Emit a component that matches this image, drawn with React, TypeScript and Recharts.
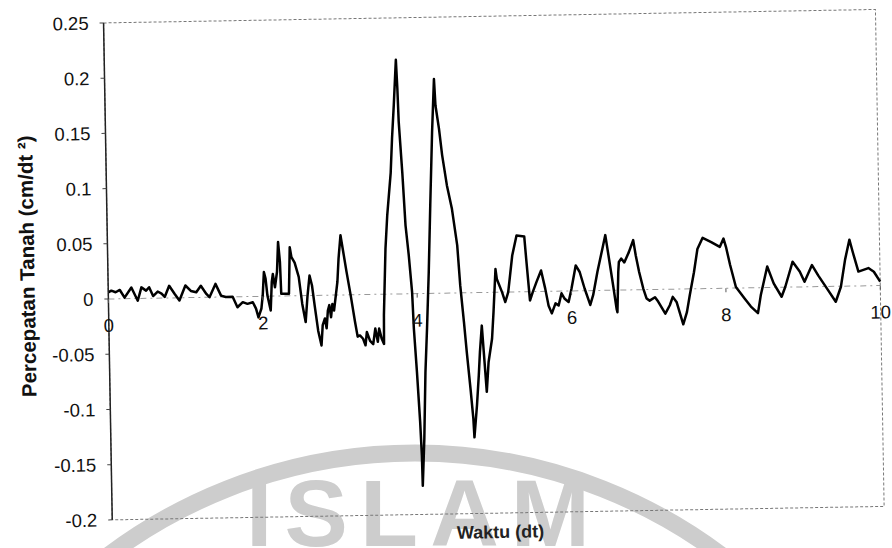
import React from 'react';
import { LineChart, Line, XAxis, YAxis, ReferenceLine, ReferenceArea } from 'recharts';

// time (dt) and ground acceleration (cm/dt²)
const waktu = [
  0, 0.04, 0.095, 0.15, 0.21, 0.3, 0.38, 0.43, 0.49, 0.53, 0.58, 0.64, 0.69, 0.73, 0.79, 0.86,
  0.92, 1.0, 1.07, 1.14, 1.2, 1.27, 1.31, 1.39, 1.46, 1.52, 1.61, 1.67, 1.74, 1.8, 1.87, 1.91,
  1.94, 1.98, 2.0, 2.02, 2.04, 2.06, 2.1, 2.12, 2.135, 2.16, 2.19, 2.21, 2.23, 2.24, 2.34, 2.36,
  2.38, 2.42, 2.47, 2.51, 2.55, 2.58, 2.61, 2.64, 2.67, 2.71, 2.75, 2.77, 2.8, 2.82, 2.84, 2.86,
  2.88, 2.9, 2.92, 2.97, 2.99, 3.02, 3.05, 3.09, 3.14, 3.19, 3.22, 3.25, 3.29, 3.32, 3.34, 3.38,
  3.42, 3.45, 3.48, 3.5, 3.53, 3.56, 3.565, 3.6, 3.63, 3.685, 3.71, 3.74, 3.777, 3.79, 3.8, 3.835,
  3.865, 3.9, 3.935, 3.95, 3.98, 4.01, 4.025, 4.03, 4.06, 4.09, 4.12, 4.155, 4.19, 4.23, 4.266,
  4.28, 4.32, 4.355, 4.41, 4.47, 4.53, 4.56, 4.6, 4.63, 4.67, 4.7, 4.71, 4.75, 4.78, 4.8, 4.83,
  4.85, 4.865, 4.88, 4.91, 4.96, 4.985, 5.02, 5.035, 5.1, 5.14, 5.18, 5.24, 5.3, 5.4, 5.42, 5.46,
  5.5, 5.55, 5.61, 5.66, 5.7, 5.74, 5.79, 5.83, 5.87, 5.91, 5.96, 6.0, 6.06, 6.11, 6.17, 6.24,
  6.28, 6.34, 6.41, 6.45, 6.48, 6.54, 6.58, 6.59, 6.61, 6.62, 6.65, 6.69, 6.75, 6.81, 6.84, 6.88,
  6.93, 6.97, 7.01, 7.08, 7.12, 7.21, 7.27, 7.31, 7.36, 7.4, 7.44, 7.49, 7.53, 7.59, 7.64, 7.71,
  7.82, 7.93, 7.98, 8.01, 8.06, 8.13, 8.24, 8.32, 8.41, 8.45, 8.54, 8.62, 8.72, 8.77, 8.87, 8.96,
  9.02, 9.12, 9.2, 9.31, 9.42, 9.49, 9.55, 9.61, 9.65, 9.72, 9.85, 9.92, 10.0,
];

const percepatan = [
  0.006, 0.0075, 0.006, 0.008, 0.001, 0.01, -0.002, 0.01, 0.007, 0.01, 0.002, 0.006, 0.004, 0.001, 0.011, 0.0035,
  -0.0025, 0.011, 0.006, 0.0047, 0.0105, 0.003, 0.0, 0.012, 0.0013, 0.0, 0.0, -0.0095, -0.005, -0.0066, -0.0052, -0.011,
  -0.019, -0.011, 0.001, 0.022, 0.016, 0.001, -0.013, 0.013, 0.02, 0.008, 0.022, 0.049, 0.031, 0.002, 0.002, 0.044,
  0.035, 0.03, 0.017, -0.0075, -0.024, 0.0, 0.018, 0.009, -0.009, -0.032, -0.0455, -0.027, -0.021, -0.03, -0.014, -0.009,
  -0.02, -0.008, -0.014, 0.012, 0.033, 0.054, 0.04, 0.021, -0.001, -0.025, -0.038, -0.037, -0.04, -0.046, -0.034, -0.042,
  -0.045, -0.031, -0.043, -0.031, -0.04, -0.045, -0.019, 0.041, 0.071, 0.11, 0.141, 0.171, 0.212, 0.186, 0.156, 0.11,
  0.062, 0.035, 0.0015, -0.032, -0.071, -0.116, -0.147, -0.174, -0.132, -0.071, -0.032, 0.019, 0.08, 0.146, 0.194,
  0.17, 0.149, 0.125, 0.0975, 0.076, 0.043, 0.0067, -0.0265, -0.054, -0.087, -0.114, -0.131, -0.102, -0.075, -0.054, -0.03,
  -0.054, -0.072, -0.09, -0.063, -0.042, -0.018, 0.021, 0.012, 0.0, -0.009, 0.0, 0.033, 0.051, 0.05, 0.03, -0.008,
  0.0, 0.009, 0.019, 0.0025, -0.013, -0.02, -0.011, -0.013, -0.002, -0.007, -0.01, 0.002, 0.023, 0.017, 0.002, -0.013,
  -0.004, 0.017, 0.038, 0.05, 0.035, 0.0045, -0.017, -0.02, 0.0165, 0.0255, 0.0285, 0.025, 0.034, 0.045, 0.031, 0.016,
  0.001, -0.008, -0.01, -0.007, -0.011, -0.022, -0.0145, -0.007, -0.012, -0.022, -0.032, -0.021, -0.006, 0.015, 0.036, 0.046,
  0.042, 0.0375, 0.045, 0.0375, 0.021, 0.001, -0.0096, -0.017, -0.023, -0.007, 0.019, 0.0036, -0.0086, 0.0004, 0.023, 0.014,
  0.0046, 0.0196, 0.01, -0.002, -0.014, -0.0005, 0.024, 0.042, 0.031, 0.013, 0.016, 0.0126, 0.0035,
];

const xTicks = [0, 2, 4, 6, 8, 10];
const yTicks = [0.25, 0.2, 0.15, 0.1, 0.05, 0, -0.05, -0.1, -0.15, -0.2];

const data = waktu.map((t, i) => ({ t, a: percepatan[i] }));

const W = 892;
const H = 548;
const MARGIN = { top: 17, right: 12, bottom: 4, left: 8 };
const Y_AXIS_W = 100;
const X_AXIS_H = 30;
const Y_MIN = -0.2;
const Y_MAX = 0.25;
const PLOT_H = H - MARGIN.top - MARGIN.bottom - X_AXIS_H;
const ZERO_Y = MARGIN.top + (PLOT_H * Y_MAX) / (Y_MAX - Y_MIN);
const PLOT_CX = MARGIN.left + Y_AXIS_W + (W - MARGIN.left - MARGIN.right - Y_AXIS_W) / 2;

const FONT = '"Liberation Sans", Arial, Helvetica, sans-serif';
const TICK_SIZE = 18.5;

// the x axis crosses at y = 0, so ticks are drawn on the zero line
const ZeroAxisTick = (props: any) => {
  const { x, payload } = props;
  return (
    <g>
      <line x1={x} x2={x} y1={ZERO_Y} y2={ZERO_Y + 4} stroke="#555" strokeWidth={1} />
      <text x={x} y={ZERO_Y + 33} textAnchor="middle" fontSize={TICK_SIZE} fontFamily={FONT} fill="#111">
        {payload.value}
      </text>
    </g>
  );
};

const yTitle = () => (
  <text
    x={27}
    y={259}
    transform="rotate(-90 27 259)"
    textAnchor="middle"
    dominantBaseline="central"
    fontSize={20.5}
    fontWeight="bold"
    fontFamily={FONT}
    fill="#111"
  >
    Percepatan Tanah (cm/dt ²)
  </text>
);

const xTitle = () => (
  <text x={PLOT_CX + 2} y={539} textAnchor="middle" fontSize={18} fontWeight="bold" fontFamily={FONT} fill="#222">
    Waktu (dt)
  </text>
);

const Watermark = () => (
  <svg width={W} height={H} style={{ position: 'absolute', left: 0, top: 0 }}>
    <circle cx={415} cy={963} r={510} fill="none" stroke="#cdcdcd" strokeWidth={17} />
    <text
      x={246}
      y={546}
      fontSize={95}
      fontWeight="bold"
      fontFamily={FONT}
      fill="#cdcdcd"
      textLength={344}
      lengthAdjust="spacing"
    >
      ISLAM
    </text>
  </svg>
);

export default function App() {
  return (
    <div style={{ position: 'absolute', left: 0, top: 0, width: W, height: H, background: '#fff', overflow: 'hidden' }}>
      <Watermark />
      <div style={{ position: 'absolute', left: 0, top: 0, width: W, height: H, transform: 'rotate(-1deg)' }}>
        <LineChart width={W} height={H} data={data} margin={MARGIN}>
          <ReferenceArea
            x1={0}
            x2={10}
            y1={Y_MIN}
            y2={Y_MAX}
            fill="none"
            fillOpacity={0}
            stroke="#777"
            strokeWidth={1}
            strokeDasharray="3 2"
          />
          <ReferenceLine y={0} stroke="#999" strokeWidth={1} strokeDasharray="6 4 2 4" />
          <XAxis
            dataKey="t"
            type="number"
            domain={[0, 10]}
            ticks={xTicks}
            interval={0}
            height={X_AXIS_H}
            axisLine={false}
            tickLine={false}
            tick={ZeroAxisTick}
            label={xTitle}
          />
          <YAxis
            type="number"
            domain={[Y_MIN, Y_MAX]}
            ticks={yTicks}
            interval={0}
            width={Y_AXIS_W}
            axisLine={{ stroke: '#222', strokeWidth: 1.5 }}
            tickLine={{ stroke: '#444' }}
            tickSize={4}
            tickMargin={11}
            tick={{ fontSize: TICK_SIZE, fontFamily: FONT, fill: '#111' }}
            label={yTitle}
          />
          <Line
            type="linear"
            dataKey="a"
            stroke="#000"
            strokeWidth={2.5}
            strokeLinejoin="round"
            dot={false}
            activeDot={false}
            isAnimationActive={false}
          />
        </LineChart>
      </div>
    </div>
  );
}
